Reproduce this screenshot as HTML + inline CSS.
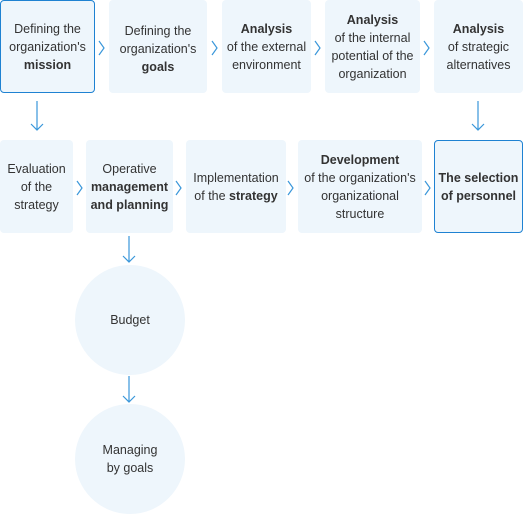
<!DOCTYPE html>
<html><head><meta charset="utf-8"><style>
body{margin:0;width:523px;height:514px;background:#fff;position:relative;overflow:hidden;font-family:"Liberation Sans",sans-serif;font-size:12.5px;color:#333;}
.b{position:absolute;background:#eef6fc;border-radius:4px;display:flex;align-items:center;justify-content:center;text-align:center;line-height:18px;box-sizing:border-box;}
.s{border:1.5px solid #1f82d2;}
.c{position:absolute;width:110px;height:110px;border-radius:50%;background:#eef6fc;display:flex;align-items:center;justify-content:center;text-align:center;line-height:18px;}
svg{position:absolute;left:0;top:0;}
</style></head><body>
<div class="b s" style="left:0;top:0;width:95px;height:93px"><span>Defining the<br>organization's<br><b>mission</b></span></div>
<div class="b" style="left:109px;top:0;width:98px;height:93px;padding-top:4px"><span>Defining the<br>organization's<br><b>goals</b></span></div>
<div class="b" style="left:222px;top:0;width:89px;height:93px"><span><b>Analysis</b><br>of the external<br>environment</span></div>
<div class="b" style="left:325px;top:0;width:95px;height:93px"><span><b>Analysis</b><br>of the internal<br>potential of the<br>organization</span></div>
<div class="b" style="left:434px;top:0;width:89px;height:93px"><span><b>Analysis</b><br>of strategic<br>alternatives</span></div>
<div class="b" style="left:0;top:140px;width:73px;height:93px"><span>Evaluation<br>of the<br>strategy</span></div>
<div class="b" style="left:86px;top:140px;width:87px;height:93px"><span>Operative<br><b>management<br>and planning</b></span></div>
<div class="b" style="left:186px;top:140px;width:100px;height:93px"><span>Implementation<br>of the <b>strategy</b></span></div>
<div class="b" style="left:298px;top:140px;width:124px;height:93px"><span><b>Development</b><br>of the organization's<br>organizational<br>structure</span></div>
<div class="b s" style="left:434px;top:140px;width:89px;height:93px"><span><b>The selection<br>of personnel</b></span></div>
<div class="c" style="left:75px;top:265px">Budget</div>
<div class="c" style="left:75px;top:404px"><span>Managing<br>by goals</span></div>
<svg width="523" height="514" fill="none" stroke="#3a97da" stroke-width="1.2">
<path d="M99 41l5 7-5 7M212 41l5 7-5 7M315 41l5 7-5 7M424 41l5 7-5 7M77 181l5 7-5 7M176 181l5 7-5 7M288 181l5 7-5 7M425 181l5 7-5 7"/>
<path d="M37 101v29M31 124l6 6 6-6M478 101v29M472 124l6 6 6-6M129 236v26M123 256l6 6 6-6M129 376v26M123 396l6 6 6-6"/>
</svg>
</body></html>
